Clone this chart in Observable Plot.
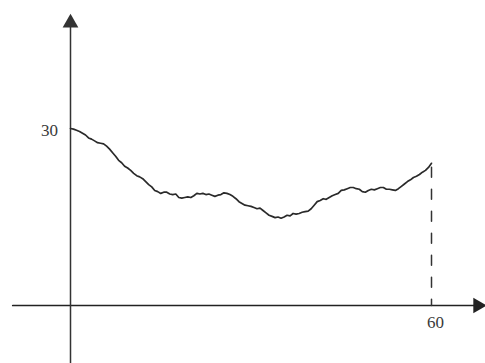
<!DOCTYPE html>
<html>
<head>
<meta charset="utf-8">
<script src="https://cdn.jsdelivr.net/npm/d3@7"></script>
<script src="https://cdn.jsdelivr.net/npm/@observablehq/plot@0.6"></script>
<style>
  html, body { margin: 0; padding: 0; background: #fff; }
</style>
</head>
<body>
<div id="chart"></div>
<script>
// Curve values (x in 0..60, y level)
const xs = [0,0.5,1,1.5,2,2.5,3,3.5,4,4.5,5,5.5,6,6.5,7,7.5,8,8.5,9,9.5,10,10.5,11,11.5,12,12.5,13,13.5,14,14.5,15,15.5,16,16.5,17,17.5,18,18.5,19,19.5,20,20.5,21,21.5,22,22.5,23,23.5,24,24.5,25,25.5,26,26.5,27,27.5,28,28.5,29,29.5,30,30.5,31,31.5,32,32.5,33,33.5,34,34.5,35,35.5,36,36.5,37,37.5,38,38.5,39,39.5,40,40.5,41,41.5,42,42.5,43,43.5,44,44.5,45,45.5,46,46.5,47,47.5,48,48.5,49,49.5,50,50.5,51,51.5,52,52.5,53,53.5,54,54.5,55,55.5,56,56.5,57,57.5,58,58.5,59,59.5,60];
const ys = [30.0,29.9,29.7,29.5,29.2,28.9,28.4,28.2,27.9,27.6,27.5,27.4,27.0,26.5,25.9,25.3,24.6,24.2,23.6,23.3,22.9,22.4,22.0,21.8,21.5,21.0,20.5,20.1,19.5,19.3,19.0,19.2,19.2,18.9,18.8,18.9,18.3,18.2,18.3,18.4,18.3,18.6,19.0,18.9,19.0,18.8,18.9,18.7,18.5,18.7,18.8,19.1,19.0,18.8,18.5,18.1,17.6,17.3,17.0,16.9,16.8,16.6,16.4,16.5,16.1,15.7,15.3,15.1,14.9,15.0,14.8,15.0,15.3,15.2,15.6,15.5,15.6,15.8,15.9,16.0,16.4,17.0,17.6,17.8,18.1,18.0,18.3,18.6,18.8,19.0,19.5,19.6,19.8,20.0,20.0,19.8,19.7,19.3,19.2,19.5,19.7,19.6,19.8,20.0,20.0,19.7,19.7,19.6,19.5,19.8,20.2,20.6,21.0,21.3,21.7,21.9,22.2,22.6,22.9,23.4,24.1];
const xTickLabels = ["60"];
const yTickLabels = ["30"];
const xTickValues = [60];
const yTickValues = [30];

const curve = xs.map((x, i) => ({x, y: ys[i]}));
const endY = ys[ys.length - 1];

const chart = Plot.plot({
  width: 485,
  height: 363,
  marginLeft: 70,
  marginRight: 54,
  marginTop: 128,
  marginBottom: 58,
  x: {domain: [0, 60], axis: null},
  y: {domain: [0, 30], axis: null},
  style: {background: "#fff", overflow: "visible"},
  marks: [
    // x axis line
    Plot.line([{x: -9.6, y: 0}, {x: 67.5, y: 0}], {x: "x", y: "y", stroke: "#222", strokeWidth: 1.7}),
    // y axis line
    Plot.line([{x: 0, y: -9.9}, {x: 0, y: 48}], {x: "x", y: "y", stroke: "#333", strokeWidth: 1.5}),
    // arrowheads
    Plot.dot([{x: 67.7, y: 0}], {x: "x", y: "y", symbol: "triangle2", r: 7.5, fill: "#222", rotate: 90}),
    Plot.dot([{x: 0, y: 47.9}], {x: "x", y: "y", symbol: "triangle2", r: 7.5, fill: "#333"}),
    // dashed drop line
    Plot.line([{x: 60, y: endY}, {x: 60, y: 0}], {x: "x", y: "y", stroke: "#333", strokeWidth: 1.5, strokeDasharray: "10,12", strokeDashoffset: -4}),
    // the curve
    Plot.line(curve, {x: "x", y: "y", stroke: "#2a2a2a", strokeWidth: 1.7, curve: "linear"}),
    // tick labels
    Plot.text(yTickValues.map((v, i) => ({y: v, t: yTickLabels[i]})), {x: 0, y: "y", text: "t", dx: -21, dy: 2, fontSize: 17, fontFamily: "Liberation Serif", fill: "#3a3a3a"}),
    Plot.text(xTickValues.map((v, i) => ({x: v, t: xTickLabels[i]})), {x: "x", y: 0, text: "t", dx: 4, dy: 17, fontSize: 17, fontFamily: "Liberation Serif", fill: "#3a3a3a"})
  ]
});
document.getElementById("chart").appendChild(chart);
</script>
</body>
</html>
